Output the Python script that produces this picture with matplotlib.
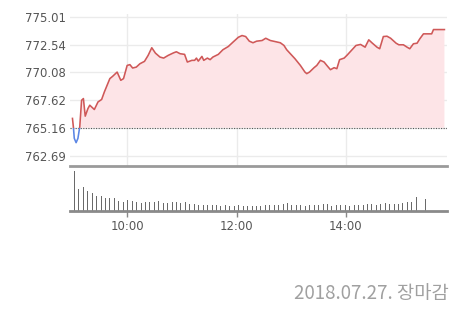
import numpy as np
import matplotlib
matplotlib.use("Agg")
import matplotlib.pyplot as plt
from matplotlib.patches import Rectangle

# ---- data ----
base_price = 765.16
ytick_vals = [762.69, 765.16, 767.62, 770.08, 772.54, 775.01]
xtick_minutes = [60, 180, 300]          # minutes after 09:00
xtick_labels = ["10:00", "12:00", "14:00"]

price_minutes = [0, 1, 2, 4, 6, 8, 10, 12, 14, 17, 19, 24, 28, 32, 35, 41, 44, 49, 53, 56,
                 60, 63, 66, 70, 74, 79, 83, 87, 91, 96, 100, 105, 111, 114, 118, 123, 126,
                 131, 134, 136, 138, 142, 144, 148, 151, 154, 160, 165, 171, 176, 182, 186,
                 190, 194, 198, 202, 208, 212, 217, 222, 228, 232, 235, 240, 244, 250, 255,
                 257, 260, 265, 268, 272, 276, 279, 283, 287, 290, 293, 298, 301, 306, 311,
                 316, 321, 325, 329, 334, 337, 341, 345, 349, 355, 358, 363, 367, 370, 374,
                 378, 381, 385, 394, 396, 408]
price_values = [765.99, 765.25, 764.22, 763.84, 764.22, 765.25, 767.60, 767.75, 766.19, 766.87,
                767.16, 766.78, 767.45, 767.67, 768.34, 769.52, 769.72, 770.10, 769.37, 769.52,
                770.69, 770.76, 770.46, 770.54, 770.84, 771.05, 771.58, 772.26, 771.78, 771.43,
                771.34, 771.58, 771.81, 771.90, 771.73, 771.67, 770.99, 771.14, 771.14, 771.34,
                771.07, 771.49, 771.14, 771.34, 771.20, 771.43, 771.67, 772.08, 772.37, 772.75,
                773.19, 773.34, 773.25, 772.84, 772.70, 772.84, 772.90, 773.10, 772.90, 772.81,
                772.70, 772.46, 772.08, 771.64, 771.29, 770.69, 770.10, 769.96, 770.10, 770.49,
                770.69, 771.14, 770.99, 770.69, 770.31, 770.49, 770.40, 771.20, 771.34, 771.58,
                772.02, 772.46, 772.55, 772.31, 772.96, 772.66, 772.31, 772.17, 773.25, 773.28,
                773.10, 772.66, 772.52, 772.52, 772.31, 772.17, 772.61, 772.66, 773.05, 773.49,
                773.49, 773.87, 773.87]

vol_slots = list(range(78)) + [79]      # bar slot index (regular bars, gap, closing bar)
volumes = [119, 65, 70, 60, 52, 44, 44, 39, 39, 39, 29, 25, 32, 30, 25, 22, 25, 25, 25, 29,
           22, 22, 25, 25, 22, 25,
           19, 19, 16, 16, 16, 16, 16, 13, 16, 13, 13, 16, 13, 13, 13, 13, 13, 16, 16, 16,
           16, 19, 24, 16, 16, 16, 13, 16, 16, 16, 19, 19, 13, 16, 16, 16, 13, 16, 16, 16,
           19, 19, 16, 19, 23, 19, 19, 19, 24, 26, 26, 41, 36]
slot_start_min = 1.6
slot_step_min = 4.87

footer = "2018.07.27. 장마감"

# ---- style ----
W, H = 468, 322
red = "#cf5858"
fill_c = "#fde4e7"
blue = "#5b86e5"
grid_c = "#ebebeb"
axis_c = "#9a9a9a"
label_c = "#555555"

xlim = (-2.7, 410.5)
ylim = (761.77, 775.25)

fig = plt.figure(figsize=(W / 100, H / 100), dpi=100)
fig.patch.set_facecolor("white")

def fx(px):
    return px / W

def fy(py):
    return 1 - py / H

ax = fig.add_axes([fx(70), fy(166), fx(446.7) - fx(70), fy(14) - fy(166)])
axv = fig.add_axes([fx(70), fy(210.7), fx(446.7) - fx(70), fy(166) - fy(210.7)])

pm = np.array(price_minutes, dtype=float)
pv = np.array(price_values, dtype=float)

# fill above baseline
ax.fill_between(pm, pv, base_price, where=pv >= base_price, interpolate=True,
                color=fill_c, lw=0, zorder=1)

# red line above baseline, blue below (via clipping)
l_red, = ax.plot(pm, pv, color=red, lw=1.15, zorder=3, solid_joinstyle="round")
l_blue, = ax.plot(pm, pv, color=blue, lw=1.15, zorder=3, solid_joinstyle="round")
clip_up = Rectangle((xlim[0], base_price), xlim[1] - xlim[0], ylim[1] - base_price,
                    transform=ax.transData, facecolor="none", edgecolor="none")
clip_dn = Rectangle((xlim[0], ylim[0]), xlim[1] - xlim[0], base_price - ylim[0],
                    transform=ax.transData, facecolor="none", edgecolor="none")
ax.add_patch(clip_up)
ax.add_patch(clip_dn)
l_red.set_clip_path(clip_up)
l_blue.set_clip_path(clip_dn)

ax.axhline(base_price, color="#555555", lw=0.8, ls=(0, (1, 1.3)), zorder=2)

ax.set_xlim(*xlim)
ax.set_ylim(*ylim)
ax.set_yticks(ytick_vals)
ax.set_yticklabels([f"{v:.2f}" for v in ytick_vals])
ax.set_xticks(xtick_minutes)
ax.set_xticklabels([])
ax.grid(True, color=grid_c, lw=1.0, zorder=0)
ax.set_axisbelow(True)
ax.tick_params(axis="y", length=0, pad=3, labelsize=8.4, labelcolor=label_c)
ax.tick_params(axis="x", length=0)
for s in ["top", "right", "left"]:
    ax.spines[s].set_visible(False)
ax.spines["bottom"].set_color(axis_c)
ax.spines["bottom"].set_linewidth(2.0)
ax.spines["bottom"].set_zorder(5)

# volume panel
vx = slot_start_min + np.array(vol_slots) * slot_step_min
axv.vlines(vx, 0, volumes, colors="#6a6a6a", lw=0.72, zorder=2, antialiased=False)
axv.set_xlim(*xlim)
axv.set_ylim(0, 134)
axv.set_yticks([])
axv.set_xticks(xtick_minutes)
axv.set_xticklabels(xtick_labels)
axv.tick_params(axis="x", length=4.5, width=1, color="#888888", pad=2,
                labelsize=8.4, labelcolor=label_c)
for s in ["top", "right", "left"]:
    axv.spines[s].set_visible(False)
axv.spines["bottom"].set_color("#8a8a8a")
axv.spines["bottom"].set_linewidth(2.0)
axv.spines["bottom"].set_zorder(5)
axv.patch.set_alpha(0)

fig.text(fx(448.3), fy(293.5), footer, ha="right", va="center", fontsize=13.5,
         fontweight="light", color="#a0a0a0",
         family=["Noto Sans CJK KR", "DejaVu Sans"])

fig.savefig("out.png", dpi=100, facecolor="white")
